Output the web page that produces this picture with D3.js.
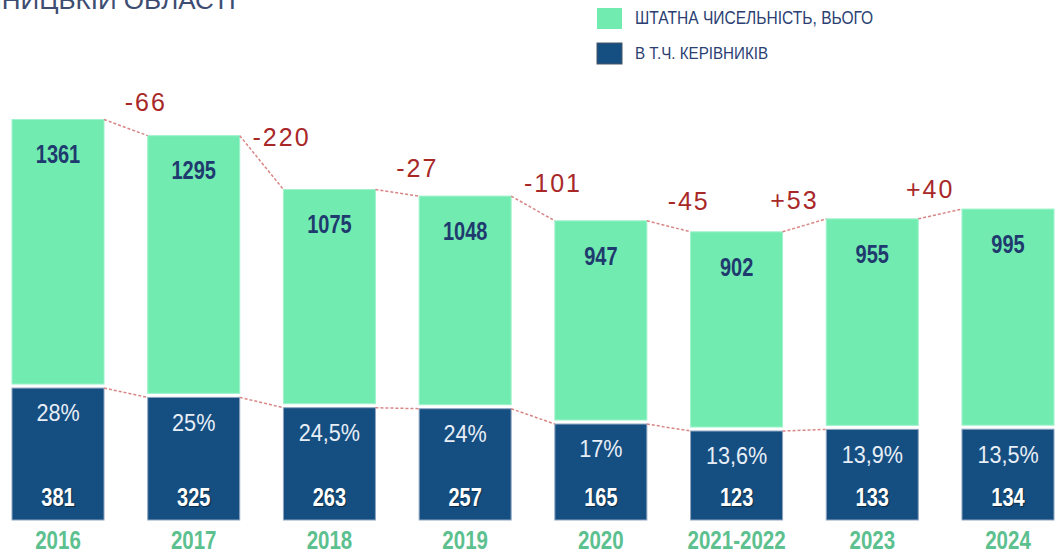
<!DOCTYPE html>
<html>
<head>
<meta charset="utf-8">
<script src="https://cdn.jsdelivr.net/npm/d3@7"></script>
<style>
  body { margin: 0; background: #fff; }
  svg { display: block; }
</style>
</head>
<body>
<script>
// data
const years = ["2016", "2017", "2018", "2019", "2020", "2021-2022", "2023", "2024"];
const staffTotal = [1361, 1295, 1075, 1048, 947, 902, 955, 995];
const managers = [381, 325, 263, 257, 165, 123, 133, 134];
const managerShare = ["28%", "25%", "24,5%", "24%", "17%", "13,6%", "13,9%", "13,5%"];
const legendLabels = ["ШТАТНА ЧИСЕЛЬНІСТЬ, ВЬОГО", "В Т.Ч. КЕРІВНИКІВ"];

const W = 1057, H = 553;
const GREEN = "#72ebb1", BLUE = "#154f82", NAVY = "#1f3a6e", RED = "#a82828",
      DASH = "#d98585", YEAR = "#5cc08f";
const sans = "'Liberation Sans', Arial, sans-serif";

const svg = d3.select("body").append("svg")
    .attr("width", W)
    .attr("height", H);

const bottom = 520;

const x = d3.scaleBand()
    .domain(years)
    .range([12, 1054])
    .paddingInner(0.322)
    .paddingOuter(0);

// the infographic is not drawn from zero, so both scales carry a base offset
const yTot = d3.scaleLinear().domain([0, 1500]).range([bottom - 67.5, bottom - 67.5 - 367]);
const yMan = d3.scaleLinear().domain([0, 400]).range([bottom - 68.5, bottom - 68.5 - 66.6]);

const rows = years.map((y, i) => ({
    year: y, total: staffTotal[i], man: managers[i], share: managerShare[i]
}));

// condensed look: squeeze text horizontally
const squeeze = (sx) => (d, i, n) => {
    const t = d3.select(n[i]);
    return "translate(" + t.attr("data-x") + "," + t.attr("data-y") + ") scale(" + sx + ",1)";
};

// title (cut at the top edge)
svg.append("text")
    .attr("x", 236).attr("y", 9)
    .attr("text-anchor", "end")
    .attr("font-family", sans)
    .attr("font-size", 26)
    .attr("fill", "#3d4d72")
    .text("У ВІННИЦЬКІЙ ОБЛАСТІ");

// legend
const legend = svg.append("g").attr("transform", "translate(597,8)");
[GREEN, BLUE].forEach((c, i) => {
    legend.append("rect")
        .attr("x", 0).attr("y", i * 35)
        .attr("width", 25).attr("height", 21)
        .attr("fill", c)
        .attr("stroke", i ? "#4a5566" : "none")
        .attr("stroke-width", i ? 1 : 0);
    legend.append("text")
        .attr("transform", "translate(38," + (i * 35 + 16) + ") scale(" + (i ? 0.92 : 0.82) + ",1)")
        .attr("font-family", sans)
        .attr("font-size", i ? 16.5 : 19)
        .attr("fill", "#2b3f73")
        .text(legendLabels[i]);
});

// bars
const bars = svg.append("g").selectAll("g")
    .data(rows)
    .enter().append("g");

bars.append("rect")
    .attr("x", d => x(d.year))
    .attr("width", x.bandwidth())
    .attr("y", d => yTot(d.total))
    .attr("height", d => (yMan(d.man) - 4) - yTot(d.total))
    .attr("fill", GREEN)
    .attr("stroke", "#9ff3cc")
    .attr("stroke-width", 1);

bars.append("rect")
    .attr("x", d => x(d.year))
    .attr("width", x.bandwidth())
    .attr("y", d => yMan(d.man))
    .attr("height", d => bottom - yMan(d.man))
    .attr("fill", BLUE)
    .attr("stroke", "#8fa5c0")
    .attr("stroke-width", 1);

// dashed connectors
const conn = svg.append("g")
    .attr("fill", "none")
    .attr("stroke", DASH)
    .attr("stroke-width", 1.5)
    .attr("stroke-dasharray", "3,2");

d3.pairs(rows).forEach(([a, b], i) => {
    conn.append("line")
        .attr("x1", x(a.year) + x.bandwidth()).attr("y1", yTot(a.total))
        .attr("x2", x(b.year)).attr("y2", yTot(b.total));
    if (i < 6) {
        conn.append("line")
            .attr("x1", x(a.year) + x.bandwidth()).attr("y1", yMan(a.man))
            .attr("x2", x(b.year)).attr("y2", yMan(b.man));
    }
});

// change labels
svg.append("g").selectAll("text")
    .data(d3.pairs(rows))
    .enter().append("text")
    .attr("x", ([a, b]) => (x(a.year) + x.bandwidth() + x(b.year)) / 2 + (b.total < a.total ? 20 : -10))
    .attr("y", ([a, b]) => (yTot(a.total) + yTot(b.total)) / 2 - 25)
    .attr("dy", "0.35em")
    .attr("text-anchor", "middle")
    .attr("font-family", sans)
    .attr("font-size", 25)
    .attr("letter-spacing", 2)
    .attr("fill", RED)
    .text(([a, b]) => (b.total - a.total > 0 ? "+" : "-") + Math.abs(b.total - a.total));

const cx = d => x(d.year) + x.bandwidth() / 2;

// totals
bars.append("text")
    .attr("data-x", cx)
    .attr("data-y", d => yTot(d.total) + 35)
    .attr("transform", squeeze(0.8))
    .attr("dy", "0.35em")
    .attr("text-anchor", "middle")
    .attr("font-family", sans)
    .attr("font-weight", "bold")
    .attr("font-size", 25)
    .attr("fill", NAVY)
    .text(d => d.total);

// shares
bars.append("text")
    .attr("data-x", cx)
    .attr("data-y", d => yMan(d.man) + 25)
    .attr("transform", squeeze(0.9))
    .attr("dy", "0.35em")
    .attr("text-anchor", "middle")
    .attr("font-family", sans)
    .attr("font-size", 24)
    .attr("fill", "#e8eef6")
    .text(d => d.share);

// managers
bars.append("text")
    .attr("data-x", cx)
    .attr("data-y", bottom - 23)
    .attr("transform", squeeze(0.8))
    .attr("dy", "0.35em")
    .attr("text-anchor", "middle")
    .attr("font-family", sans)
    .attr("font-weight", "bold")
    .attr("font-size", 25)
    .attr("fill", "#ffffff")
    .style("text-shadow", "1px 1px 1px rgba(0,0,0,0.5)")
    .text(d => d.man);

// year labels
bars.append("text")
    .attr("data-x", cx)
    .attr("data-y", 549)
    .attr("transform", squeeze(0.82))
    .attr("text-anchor", "middle")
    .attr("font-family", sans)
    .attr("font-weight", "bold")
    .attr("font-size", 25)
    .attr("fill", YEAR)
    .text(d => d.year);
</script>
</body>
</html>
